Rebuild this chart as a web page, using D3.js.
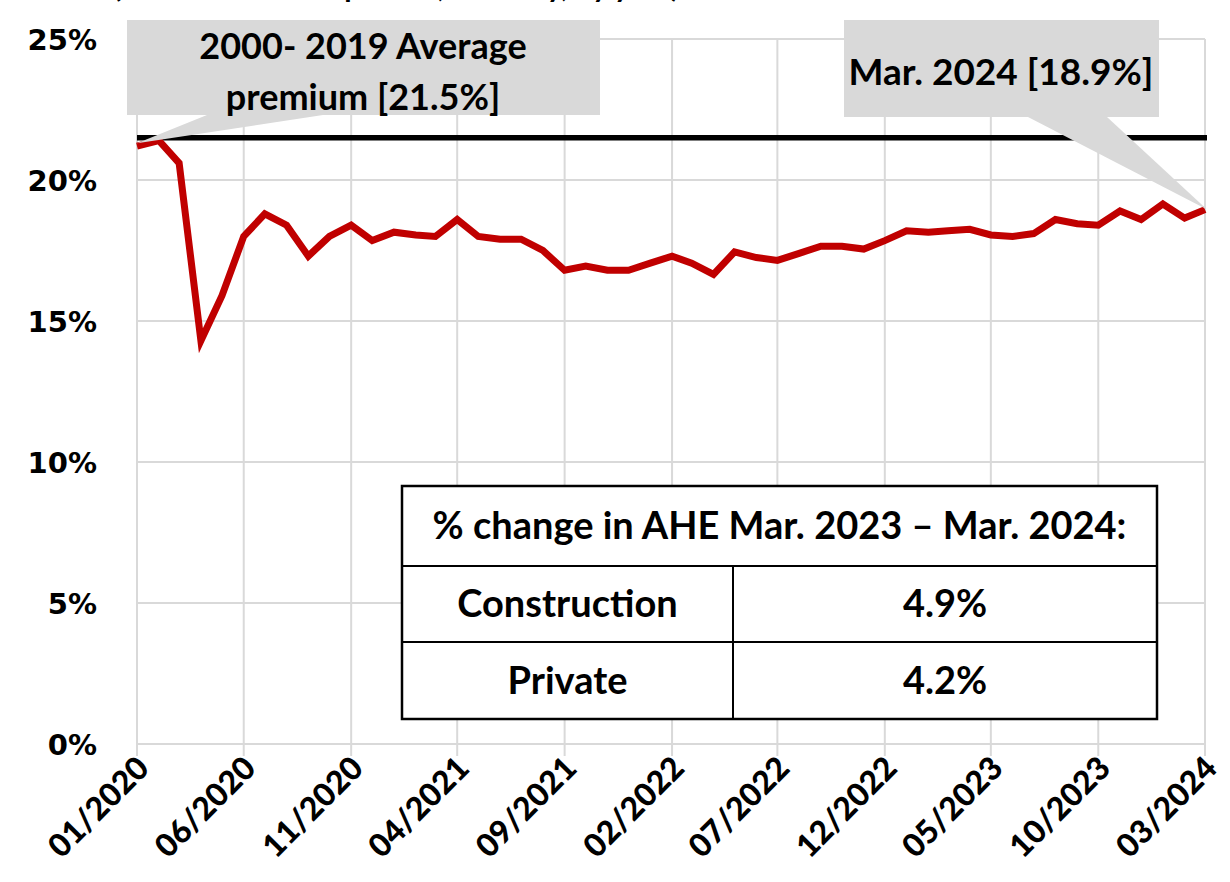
<!DOCTYPE html>
<html>
<head>
<meta charset="utf-8">
<script src="https://cdn.jsdelivr.net/npm/d3@7"></script>
<style>
  body { margin: 0; background: #fff; }
  svg { display: block; }
</style>
</head>
<body>
<script>
// construction wage premium over private sector, monthly, 01/2020 - 03/2024
var premium = [21.2, 21.4, 20.6, 14.3, 15.9, 18.0, 18.8, 18.4, 17.3, 18.0,
               18.4, 17.85, 18.15, 18.05, 18.0, 18.6, 18.0, 17.9, 17.9, 17.5,
               16.8, 16.95, 16.8, 16.8, 17.05, 17.3, 17.05, 16.65, 17.45, 17.25,
               17.15, 17.4, 17.65, 17.65, 17.55, 17.85, 18.2, 18.15, 18.2, 18.25,
               18.05, 18.0, 18.1, 18.6, 18.45, 18.4, 18.9, 18.6, 19.15, 18.65, 18.95];
var average = 21.5;
var tickLabels = ['01/2020', '06/2020', '11/2020', '04/2021', '09/2021', '02/2022',
                  '07/2022', '12/2022', '05/2023', '10/2023', '03/2024'];
var yTicks = [0, 5, 10, 15, 20, 25];
var tableHead = '% change in AHE Mar. 2023 \u2013 Mar. 2024:';
var tableRows = [['Construction', '4.9%'], ['Private', '4.2%']];

var months = d3.timeMonth.range(new Date(2020, 0, 1), new Date(2024, 3, 1));
var fmt = d3.timeFormat('%m/%Y');

var W = 1230, H = 882;
var calibri = 'Lato, "Open Sans", sans-serif';

var x = d3.scaleTime()
  .domain([months[0], months[months.length - 1]])
  .range([137, 1205]);

var y = d3.scaleLinear()
  .domain([0, 25])
  .range([744, 39]);

var svg = d3.select('body').append('svg')
  .attr('width', W)
  .attr('height', H);

// title, mostly cut off at the top edge
svg.append('text')
  .attr('x', 113).attr('y', -3)
  .attr('font-family', calibri).attr('font-weight', 700).attr('font-size', 30)
  .text('(Construction vs. private, monthly, by year)');

// grid
var tickDates = months.filter(function(d) { return tickLabels.indexOf(fmt(d)) >= 0; });

svg.append('g').selectAll('line.h')
  .data(yTicks)
  .enter().append('line')
  .attr('x1', 137).attr('x2', 1205)
  .attr('y1', function(d) { return y(d); })
  .attr('y2', function(d) { return y(d); })
  .attr('stroke', '#d9d9d9').attr('stroke-width', 2);

svg.append('g').selectAll('line.v')
  .data(tickDates)
  .enter().append('line')
  .attr('x1', function(d) { return x(d); })
  .attr('x2', function(d) { return x(d); })
  .attr('y1', y(25)).attr('y2', y(0) + 12)
  .attr('stroke', '#d9d9d9').attr('stroke-width', 2);

// y labels
svg.append('g').selectAll('text')
  .data(yTicks)
  .enter().append('text')
  .attr('x', 97)
  .attr('y', function(d) { return y(d) + 11; })
  .attr('text-anchor', 'end')
  .attr('font-family', '"DejaVu Sans", sans-serif')
  .attr('font-weight', 700)
  .attr('font-size', 29)
  .text(function(d) { return d + '%'; });

// x labels
svg.append('g').selectAll('text')
  .data(tickDates)
  .enter().append('text')
  .attr('transform', function(d) { return 'translate(' + (x(d) + 14) + ',' + (y(0) + 26) + ') rotate(-45)'; })
  .attr('text-anchor', 'end')
  .attr('font-family', calibri)
  .attr('font-weight', 900)
  .attr('font-size', 32)
  .text(function(d) { return fmt(d); });

// average line
svg.append('line')
  .attr('x1', 137).attr('x2', 1207)
  .attr('y1', y(average)).attr('y2', y(average))
  .attr('stroke', '#000').attr('stroke-width', 5.5);

// premium line
var line = d3.line()
  .x(function(d, i) { return x(months[i]); })
  .y(function(d) { return y(d); });

svg.append('path')
  .datum(premium)
  .attr('d', line)
  .attr('fill', 'none')
  .attr('stroke', '#c00000')
  .attr('stroke-width', 7)
  .attr('stroke-linejoin', 'miter');

// callouts
function callout(box, base, tip, lines, cx, baselines, size) {
  var g = svg.append('g');
  g.append('rect')
    .attr('x', box[0]).attr('y', box[1])
    .attr('width', box[2] - box[0]).attr('height', box[3] - box[1])
    .attr('fill', '#d9d9d9');
  g.append('path')
    .attr('d', 'M' + base[0] + ',' + box[3] + 'L' + tip[0] + ',' + tip[1] + 'L' + base[1] + ',' + box[3] + 'Z')
    .attr('fill', '#d9d9d9');
  lines.forEach(function(t, i) {
    g.append('text')
      .attr('x', cx).attr('y', baselines[i])
      .attr('text-anchor', 'middle')
      .attr('font-family', calibri).attr('font-weight', 700).attr('font-size', size)
      .text(t);
  });
}

var lastIdx = premium.length - 1;
callout([127, 20, 600, 115], [207, 323], [x(months[0]), y(premium[0]) - 3],
        ['2000- 2019 Average', 'premium [21.5%]'], 363, [59, 110], 36);
callout([844, 20, 1159, 117], [1028, 1107], [x(months[lastIdx]) + 2, y(premium[lastIdx])],
        ['Mar. 2024 [18.9%]'], 1001, [85], 37);

// table
var tb = svg.append('g');
var tx0 = 402, tx1 = 1157, tcol = 733;
var rowsY = [486, 566, 642, 719];
tb.append('rect')
  .attr('x', tx0).attr('y', rowsY[0])
  .attr('width', tx1 - tx0).attr('height', rowsY[3] - rowsY[0])
  .attr('fill', '#fff').attr('stroke', '#000').attr('stroke-width', 2.5);
tb.selectAll('line.r')
  .data([rowsY[1], rowsY[2]])
  .enter().append('line')
  .attr('x1', tx0).attr('x2', tx1)
  .attr('y1', function(d) { return d; }).attr('y2', function(d) { return d; })
  .attr('stroke', '#000').attr('stroke-width', 2);
tb.append('line')
  .attr('x1', tcol).attr('x2', tcol)
  .attr('y1', rowsY[1]).attr('y2', rowsY[3])
  .attr('stroke', '#000').attr('stroke-width', 2);
tb.append('text')
  .attr('x', (tx0 + tx1) / 2).attr('y', 539)
  .attr('text-anchor', 'middle')
  .attr('font-family', calibri).attr('font-weight', 700).attr('font-size', 38)
  .text(tableHead);
tableRows.forEach(function(r, i) {
  var by = (rowsY[i + 1] + rowsY[i + 2]) / 2 + 13;
  tb.append('text')
    .attr('x', (tx0 + tcol) / 2).attr('y', by)
    .attr('text-anchor', 'middle')
    .attr('font-family', calibri).attr('font-weight', 700).attr('font-size', 38)
    .text(r[0]);
  tb.append('text')
    .attr('x', (tcol + tx1) / 2).attr('y', by)
    .attr('text-anchor', 'middle')
    .attr('font-family', calibri).attr('font-weight', 700).attr('font-size', 38)
    .text(r[1]);
});
</script>
</body>
</html>
